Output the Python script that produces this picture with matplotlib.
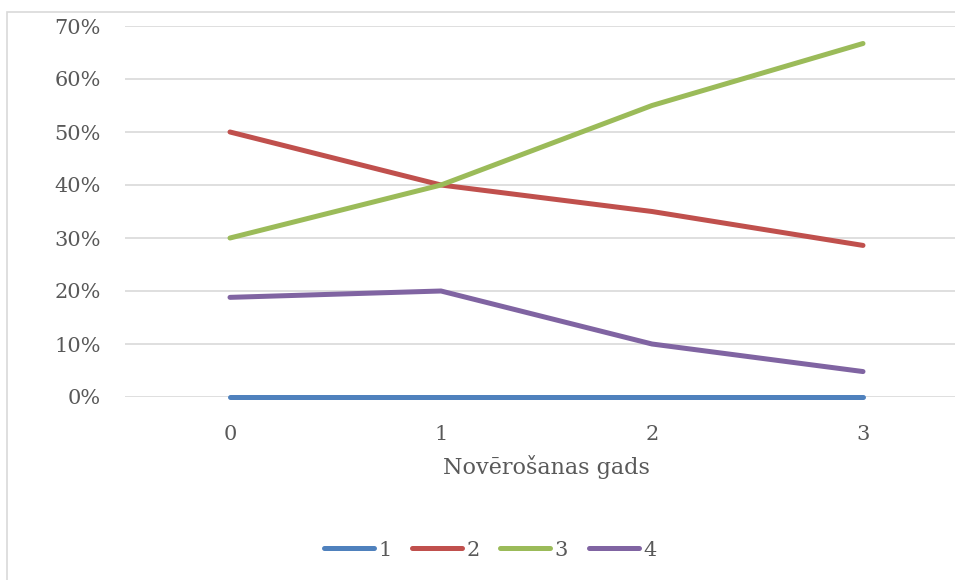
import matplotlib
matplotlib.use("Agg")
import matplotlib.pyplot as plt
from matplotlib.patches import Rectangle
from matplotlib.ticker import PercentFormatter

# --- data ----------------------------------------------------------------

years = [0, 1, 2, 3]
series_labels = ["1", "2", "3", "4"]
s1 = [0.0, 0.0, 0.0, 0.0]
s2 = [50.0, 40.0, 35.0, 28.6]
s3 = [30.0, 40.0, 55.0, 66.7]
s4 = [18.8, 20.0, 10.0, 4.8]
y_ticks = [0, 10, 20, 30, 40, 50, 60, 70]
x_label = "Novērošanas gads"

COLORS = ["#4F81BD", "#C0504D", "#9BBB59", "#8064A2"]
TEXT = "#595959"
GRID = "#D9D9D9"

plt.rcParams["font.family"] = ["DejaVu Serif"]

fig = plt.figure(figsize=(9.55, 5.8), dpi=100)

# chart border (extends past the right/bottom edge, as in the cropped source)
fig.patches.append(Rectangle((7 / 955, -0.1), 1.2, 1 - 12 / 580 + 0.1,
                             transform=fig.transFigure, fill=False,
                             edgecolor=GRID, linewidth=1.2))

ax = fig.add_axes([124.5 / 955, 1 - 397 / 580, 844 / 955, 371 / 580])

for vals, lab, col in zip([s1, s2, s3, s4], series_labels, COLORS):
    ax.plot(years, vals, color=col, linewidth=3.6, label=lab,
            solid_capstyle="round", zorder=3, clip_on=False)

ax.set_xlim(-0.5, 3.5)
ax.set_ylim(0, 70)
ax.set_yticks(y_ticks)
ax.set_xticks(years)
ax.yaxis.set_major_formatter(PercentFormatter(decimals=0))
ax.grid(axis="y", color=GRID, linewidth=1.2)
ax.set_axisbelow(True)
for sp in ax.spines.values():
    sp.set_visible(False)
ax.tick_params(length=0, labelsize=15, colors=TEXT)
ax.tick_params(axis="y", pad=17)
ax.tick_params(axis="x", pad=20)
ax.set_xlabel(x_label, fontsize=16, color=TEXT, labelpad=8)

ax.legend(loc="center", bbox_to_anchor=(490 / 955, 1 - 550 / 580),
          bbox_transform=fig.transFigure, ncol=4, frameon=False,
          fontsize=15, labelcolor=TEXT, handlelength=2.4,
          handletextpad=0.2, columnspacing=1.0)

fig.savefig("out.png", dpi=100)
